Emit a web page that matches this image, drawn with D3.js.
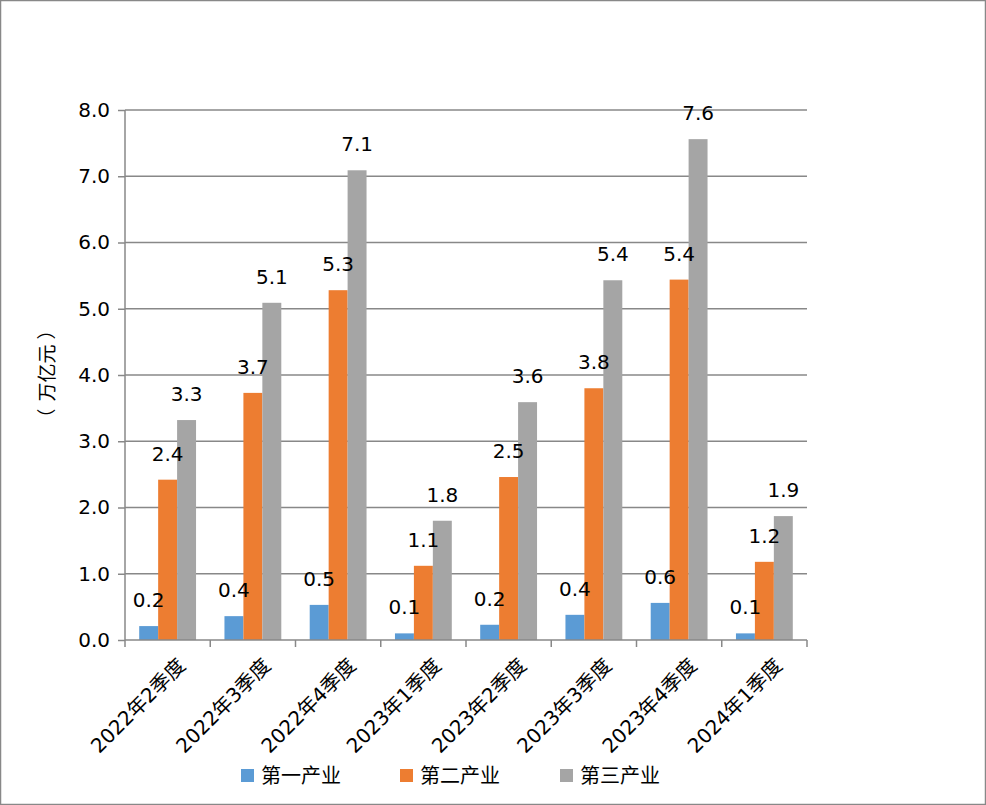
<!DOCTYPE html>
<html><head><meta charset="utf-8">
<script src="https://cdn.jsdelivr.net/npm/d3@7"></script>
<style>body{margin:0;background:#fff}svg{display:block}</style>
</head><body>
<svg id="c" width="986" height="805"></svg>
<script>
const categories = ["2022年2季度","2022年3季度","2022年4季度","2023年1季度","2023年2季度","2023年3季度","2023年4季度","2024年1季度"];
const seriesNames = ["第一产业","第二产业","第三产业"];
const primary   = [0.21, 0.36, 0.53, 0.10, 0.23, 0.38, 0.56, 0.10];
const secondary = [2.42, 3.73, 5.28, 1.12, 2.46, 3.80, 5.44, 1.18];
const tertiary  = [3.32, 5.09, 7.09, 1.80, 3.59, 5.43, 7.56, 1.87];
const yTicks = [0,1,2,3,4,5,6,7,8];
const yTitleParts = ["（","万亿元","）"];
const colors = ["#5B9BD5","#ED7D31","#A5A5A5"];
const seriesValues = [primary, secondary, tertiary];

const svg = d3.select("#c");
svg.append("rect").attr("x",0.5).attr("y",0.5).attr("width",985).attr("height",804)
  .attr("fill","#fff").attr("stroke","#888").attr("stroke-width",1.5);

const L=125,R=807,T=110,B=640;
const x = d3.scaleBand().domain(categories).range([L,R]).paddingInner(0).paddingOuter(0);
const y = d3.scaleLinear().domain([0,8]).range([B,T]);
const bw = x.bandwidth()/4.5;
const xs = d3.scaleBand().domain([0,1,2]).range([0,bw*3]);

// gridlines
svg.append("g").selectAll("line").data(yTicks.slice(1)).join("line")
  .attr("x1",L).attr("x2",R).attr("y1",d=>y(d)).attr("y2",d=>y(d))
  .attr("stroke","#888").attr("stroke-width",1.5);

// y axis
const ya = svg.append("g").attr("transform",`translate(${L},0)`)
  .call(d3.axisLeft(y).tickValues(yTicks).tickFormat(d3.format(".1f")).tickSize(7).tickPadding(8));
ya.select(".domain").attr("stroke","#888").attr("stroke-width",1.5).attr("d",`M0,${B}V${T}`);
ya.selectAll(".tick line").attr("stroke","#888").attr("stroke-width",1.5);
ya.selectAll(".tick text").attr("font-family","DejaVu Sans").attr("font-size",20).attr("fill","#000");

// bars
const g = svg.append("g");
seriesValues.forEach((vals,si)=>{
  g.selectAll(null).data(vals).join("rect")
    .attr("x",(d,i)=>x(categories[i])+bw*0.75+xs(si))
    .attr("y",d=>y(d)).attr("width",xs.bandwidth()).attr("height",d=>B-y(d))
    .attr("fill",colors[si]);
});
const lbl = svg.append("g");
seriesValues.forEach((vals,si)=>{
  lbl.selectAll(null).data(vals).join("text")
    .attr("x",(d,i)=>x(categories[i])+bw*0.75+xs(si)+xs.bandwidth()/2)
    .attr("y",d=>y(d)-19)
    .attr("text-anchor","middle").attr("font-family","DejaVu Sans").attr("font-size",20).attr("fill","#000")
    .text(d=>d3.format(".1f")(d));
});

// x axis
const xa = svg.append("g").attr("transform",`translate(0,${B})`);
xa.append("line").attr("x1",L).attr("x2",R).attr("stroke","#888").attr("stroke-width",1.5);
const bounds = categories.map(c=>x(c)).concat([R]);
xa.selectAll(".tk").data(bounds).join("line").attr("class","tk")
  .attr("x1",d=>d).attr("x2",d=>d).attr("y1",0).attr("y2",7)
  .attr("stroke","#888").attr("stroke-width",1.5);
xa.selectAll(".lb").data(categories).join("text").attr("class","lb")
  .attr("transform",d=>`translate(${x(d)+x.bandwidth()/2+14},${22}) rotate(-45)`)
  .attr("text-anchor","end").attr("dy","0.35em")
  .attr("font-family","DejaVu Sans, Noto Sans CJK SC").attr("font-size",20).attr("fill","#000")
  .text(d=>d);

// y title: parts placed separately so the full-width parentheses keep their spacing
const yt = svg.append("g").attr("transform","translate(47,373) rotate(-90)");
const partPos = [-45, 0, 43];
yTitleParts.forEach((p,i)=>{
  yt.append("text").attr("x",partPos[i]).attr("text-anchor","middle").attr("dy","0.35em")
    .attr("font-family","Noto Sans CJK SC").attr("font-size",19).attr("fill","#000")
    .text(p);
});

// legend
const legX = [241,400,560];
const lg = svg.append("g");
seriesNames.forEach((n,i)=>{
  lg.append("rect").attr("x",legX[i]).attr("y",769).attr("width",13).attr("height",13).attr("fill",colors[i]);
  lg.append("text").attr("x",legX[i]+20).attr("y",776).attr("dy","0.35em")
    .attr("font-family","Noto Sans CJK SC").attr("font-size",20).attr("fill","#000").text(n);
});
</script>
</body></html>
